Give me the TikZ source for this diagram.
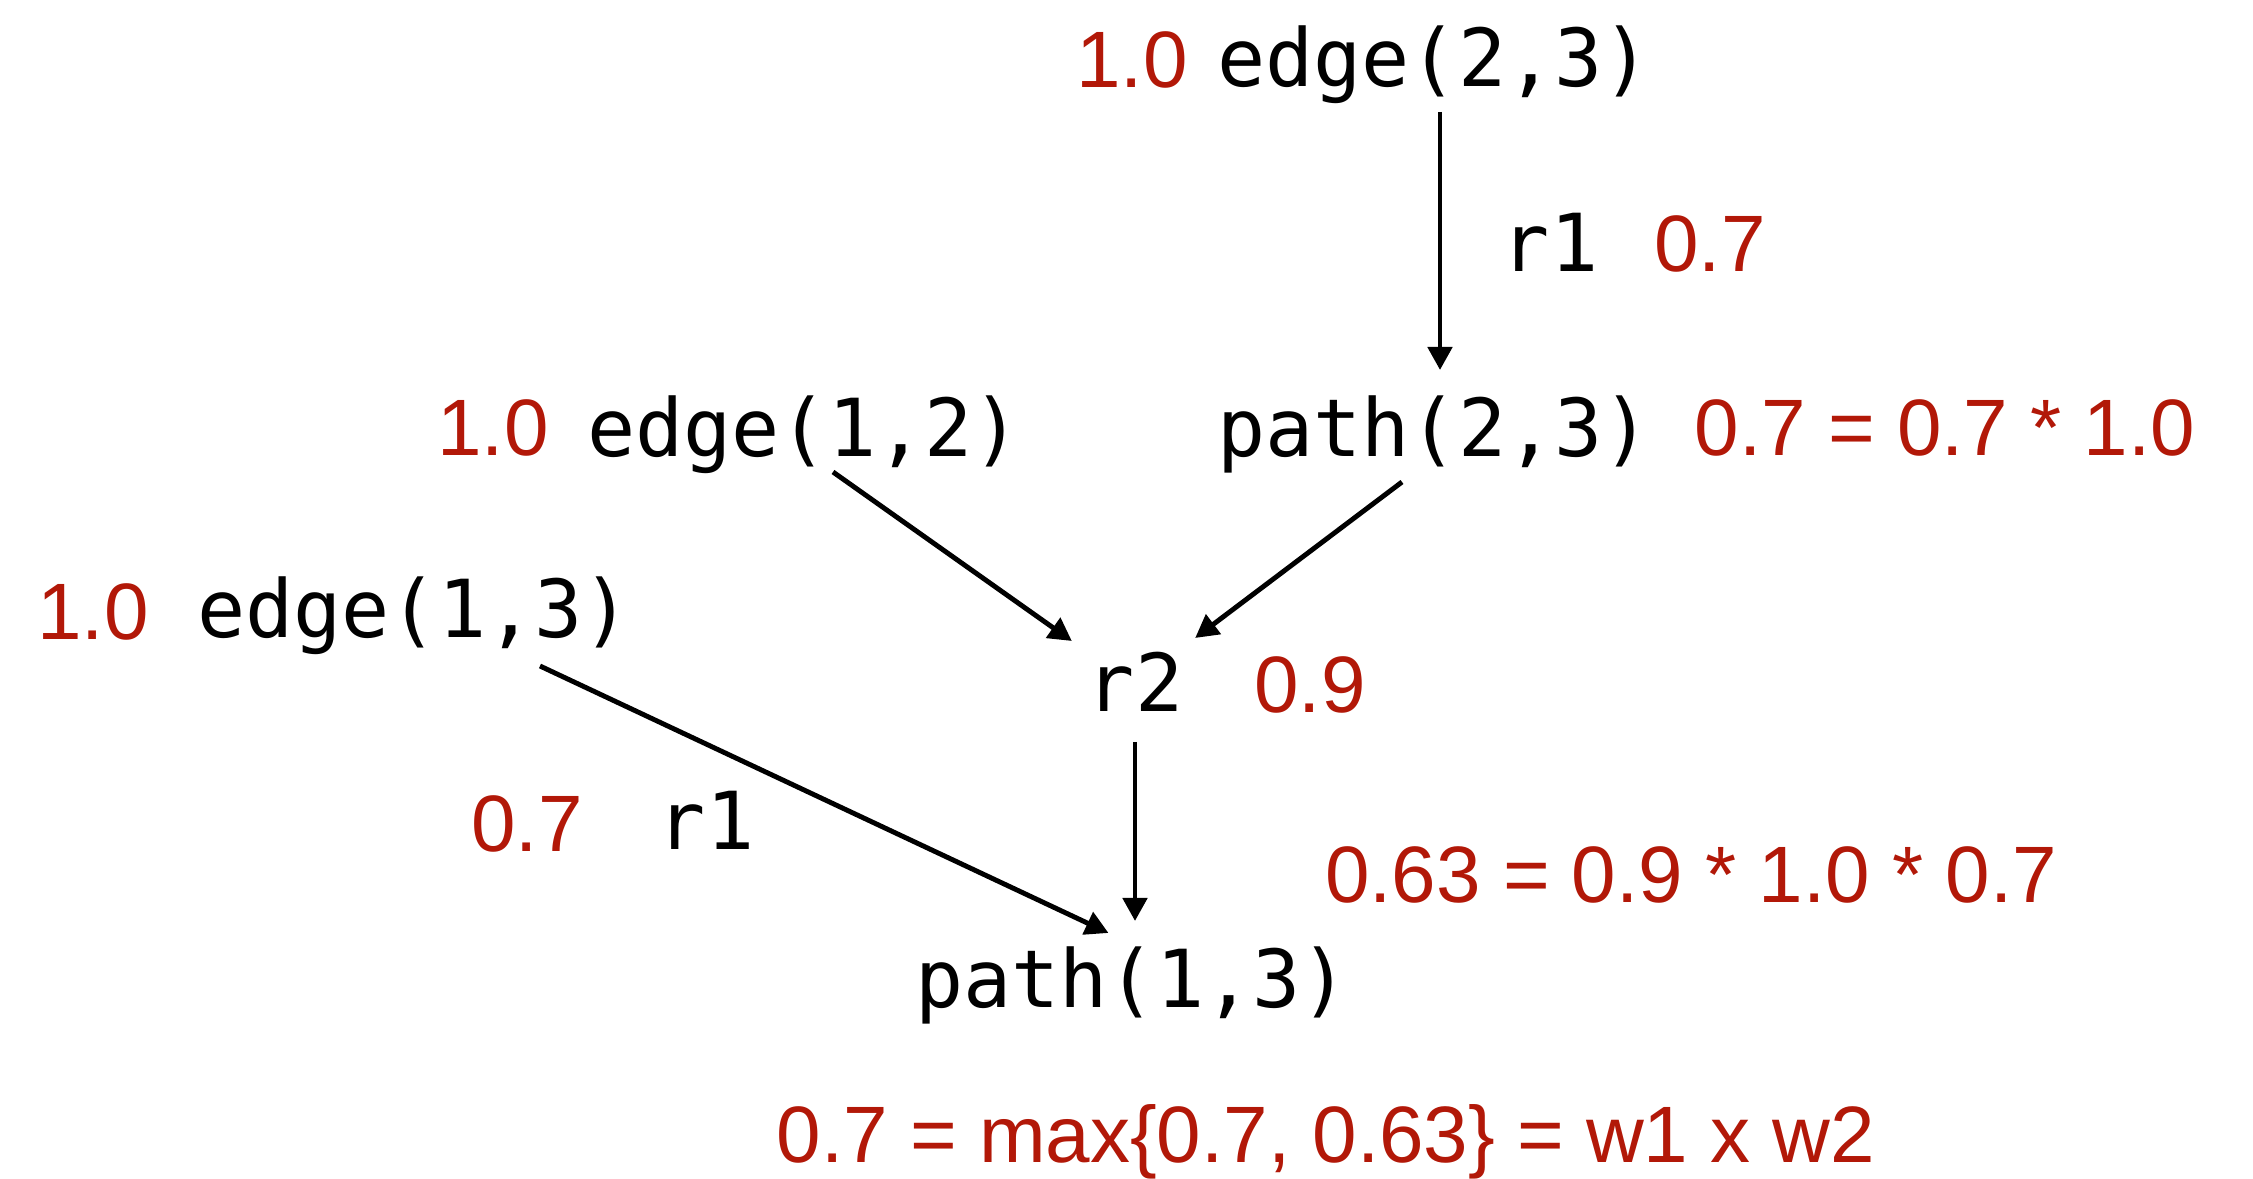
\documentclass[tikz,border=0pt]{standalone}
\usepackage{fontspec}
\setmonofont{DejaVu Sans Mono}
\newfontfamily\wfont{Liberation Sans}
\usetikzlibrary{arrows.meta}
\definecolor{wred}{RGB}{178,24,8}
\newcommand{\bigsz}{\fontsize{22.76pt}{27pt}\selectfont}
\begin{document}
\begin{tikzpicture}[
    % Black terms: monospaced, equal box height so anchors line up
    term/.style={font=\bigsz\ttfamily, inner sep=0pt, outer sep=0pt,
                 text height=0.62cm, text depth=0.19cm, anchor=base},
    % Red weights and formulas
    wt/.style={font=\bigsz\wfont, text=wred, inner sep=0pt, anchor=base},
    % Derivation arrows
    arr/.style={-{Triangle[length=0.23cm, width=0.24cm]}, line width=1.4pt},
]
\useasboundingbox (0,0) rectangle (22.53,-11.79);

%% ── Top: edge(2,3) ──
\node[wt]   (w23)    at (11.32, -0.88) {1.0};
\node[term] (edge23) at (14.34, -0.87) {edge(2,3)};
\node[term] (r1a)    at (15.50, -2.72) {r1};
\node[wt]   (p1a)    at (17.10, -2.72) {0.7};

%% ── Row 2: edge(1,2), path(2,3) ──
\node[wt]   (w12)    at (4.93,  -4.56) {1.0};
\node[term] (edge12) at (8.04,  -4.57) {edge(1,2)};
\node[term] (path23) at (14.34, -4.57) {path(2,3)};
\node[wt]   (eq23)   at (19.45, -4.56) {0.7 = 0.7 * 1.0};

%% ── Row 3: edge(1,3), r2 ──
\node[wt]   (w13)    at (0.93,  -6.40) {1.0};
\node[term] (edge13) at (4.14,  -6.38) {edge(1,3)};
\node[term] (r2)     at (11.35, -7.12) {r2};
\node[wt]   (p2)     at (13.10, -7.13) {0.9};

%% ── Rule labels and products ──
\node[wt]   (p1b)    at (5.27,  -8.52) {0.7};
\node[term] (r1b)    at (7.06,  -8.50) {r1};
\node[wt]   (eq13)   at (16.91, -9.03) {0.63 = 0.9 * 1.0 * 0.7};

%% ── Bottom: path(1,3) ──
\node[term] (path13) at (11.32, -10.08) {path(1,3)};
\node[wt]   (total)  at (13.26, -11.63) {0.7 = max\{0.7, 0.63\} = w1 x w2};

%% ── Arrows ──
\draw[arr] ([xshift=0.06cm, yshift=-0.06cm]edge23.south)
        -- ([xshift=0.06cm, yshift=0.25cm]path23.north);
\draw[arr] ([xshift=0.29cm, yshift=0.04cm]edge12.south)
        -- ([xshift=-0.15cm, yshift=0.09cm]r2.north west);
\draw[arr] ([xshift=-0.32cm, yshift=-0.06cm]path23.south)
        -- ([xshift=0.12cm, yshift=0.12cm]r2.north east);
\draw[arr] ([yshift=-0.11cm]r2.south)
        -- ([yshift=0.25cm]path13.north -| r2.south);
\draw[arr] ([xshift=1.26cm, yshift=-0.09cm]edge13.south)
        -- ([xshift=-0.235cm, yshift=0.13cm]path13.north);

\end{tikzpicture}
\end{document}
